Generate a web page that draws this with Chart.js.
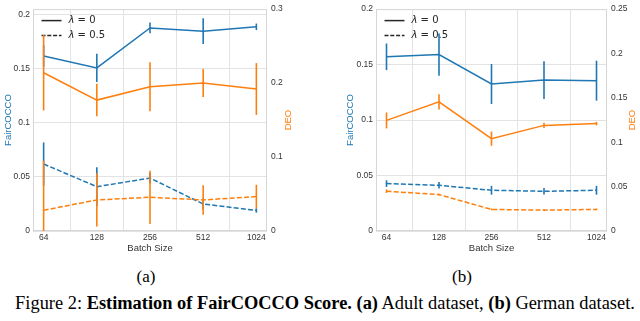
<!DOCTYPE html>
<html><head><meta charset="utf-8">
<script src="https://cdn.jsdelivr.net/npm/chart.js@4.4.1/dist/chart.umd.min.js"></script>
<style>
html,body{margin:0;padding:0;background:#fff;width:640px;height:321px;overflow:hidden;position:relative}
.wrap{position:absolute;top:0;width:320px;height:256px}
#wa{left:0}#wb{left:320px}
.cap{position:absolute;font-family:"Liberation Serif","Times New Roman",serif;color:#000;white-space:nowrap;line-height:1}
#capA{left:146px;top:268px;font-size:17px;transform:translateX(-50%)}
#capB{left:462px;top:268px;font-size:17px;transform:translateX(-50%)}
#fig{left:325px;top:294px;font-size:18.4px;transform:translateX(-50%)}
</style></head><body>
<div class="wrap" id="wa"><canvas id="ca" width="320" height="256"></canvas></div>
<div class="wrap" id="wb"><canvas id="cb" width="320" height="256"></canvas></div>
<div class="cap" id="capA">(a)</div>
<div class="cap" id="capB">(b)</div>
<div class="cap" id="fig">Figure 2: <b>Estimation of FairCOCCO Score.</b> <b>(a)</b> Adult dataset, <b>(b)</b> German dataset.</div>
<script>
// ---- data ----
const batchSizes = ['64', '128', '256', '512', '1024'];
const lambdaValues = ['0', '0.5'];

// (a) Adult dataset
const aFairL0 = [0.162, 0.151, 0.188, 0.185, 0.189];
const aFairL0Err = [0.010, 0.013, 0.005, 0.012, 0.003];
const aDeoL0 = [0.214, 0.177, 0.195, 0.200, 0.192];
const aDeoL0Err = [0.051, 0.022, 0.033, 0.019, 0.035];
const aFairL05 = [0.062, 0.041, 0.049, 0.025, 0.019];
const aFairL05Err = [0.020, 0.018, 0.005, 0.005, 0.002];
const aDeoL05 = [0.028, 0.042, 0.0456, 0.042, 0.0465];
const aDeoL05Err = [0.067, 0.036, 0.036, 0.020, 0.016];
const aLeftTicks = [0, 0.05, 0.1, 0.15, 0.2];
const aRightTicks = [0, 0.1, 0.2, 0.3];

// (b) German dataset
const bFairL0 = [0.157, 0.159, 0.1325, 0.136, 0.1355];
const bFairL0Err = [0.012, 0.019, 0.018, 0.017, 0.018];
const bDeoL0 = [0.1246, 0.1455, 0.104, 0.119, 0.121];
const bDeoL0Err = [0.009, 0.0085, 0.008, 0.003, 0.002];
const bFairL05 = [0.0427, 0.0412, 0.0367, 0.0358, 0.0367];
const bFairL05Err = [0.003, 0.003, 0.004, 0.003, 0.004];
const bDeoL05 = [0.0448, 0.041, 0.0243, 0.0235, 0.0243];
const bDeoL05Err = [0.002, 0.001, 0.001, 0.001, 0.001];
const bLeftTicks = [0, 0.05, 0.1, 0.15, 0.2];
const bRightTicks = [0, 0.05, 0.1, 0.15, 0.2, 0.25];

// ---- style ----
const BLUE = '#1f77b4', ORANGE = '#ff7f0e', TEXT = '#333333', GRID = '#e3e3e3', FRAME = '#d6d6d6';
const FONT = '"Liberation Sans", Arial, sans-serif';
const DASH = [5, 2.2];

function lineDs(vals, color, axis, dashed, order) {
  return { type: 'line', data: vals.map((v, i) => ({ x: i, y: v })), borderColor: color,
    backgroundColor: color, borderWidth: 1.5, borderDash: dashed ? DASH : [], pointRadius: 0,
    tension: 0, yAxisID: axis, order: order, fill: false };
}
function errDs(vals, errs, color, axis, order) {
  return { type: 'bar', data: vals.map((v, i) => ({ x: i, y: [v - errs[i], v + errs[i]] })),
    backgroundColor: color, borderWidth: 0, grouped: false, maxBarThickness: 1.6,
    yAxisID: axis, order: order };
}

const frameLegendPlugin = {
  id: 'frameLegend',
  beforeDatasetsDraw(chart) {
    const { ctx, chartArea: { left, top, right, bottom } } = chart;
    ctx.save();
    ctx.strokeStyle = FRAME; ctx.lineWidth = 1;
    ctx.strokeRect(left + 0.5, top + 0.5, right - left - 1, bottom - top - 1);
    lambdaValues.forEach((lab, i) => {
      const y = top + 11.5 + i * 15;
      ctx.strokeStyle = '#262626'; ctx.lineWidth = 1.5;
      ctx.setLineDash(i === 0 ? [] : [4, 1.8]);
      ctx.beginPath(); ctx.moveTo(left + 8.5, y); ctx.lineTo(left + 28.5, y); ctx.stroke();
      ctx.setLineDash([]);
      ctx.fillStyle = '#262626'; ctx.textBaseline = 'middle'; ctx.textAlign = 'left';
      ctx.font = 'italic 10px "DejaVu Sans"';
      ctx.fillText('λ', left + 35.5, y);
      const w = ctx.measureText('λ').width;
      ctx.font = '10px "DejaVu Sans"';
      ctx.fillText(' = ' + lab, left + 35.5 + w, y);
    });
    ctx.restore();
  },
  afterDraw(chart, args, opts) {
    const { ctx, chartArea: { top, bottom, right } } = chart;
    ctx.save();
    ctx.translate(right + opts.deoOffset, (top + bottom) / 2);
    ctx.rotate(-Math.PI / 2);
    ctx.fillStyle = ORANGE; ctx.textAlign = 'center'; ctx.textBaseline = 'middle';
    ctx.font = '9.5px ' + FONT;
    ctx.fillText('DEO', 0, 0);
    ctx.restore();
  }
};

function fmt(v) { return String(+v.toFixed(3)); }

function makeChart(id, d, cfg) {
  new Chart(document.getElementById(id), {
    type: 'line',
    data: { datasets: [
      errDs(d.deo0, d.deo0e, ORANGE, 'yR', 1), lineDs(d.deo0, ORANGE, 'yR', false, 2),
      errDs(d.deo5, d.deo5e, ORANGE, 'yR', 3), lineDs(d.deo5, ORANGE, 'yR', true, 4),
      errDs(d.fair0, d.fair0e, BLUE, 'yL', 5), lineDs(d.fair0, BLUE, 'yL', false, 6),
      errDs(d.fair5, d.fair5e, BLUE, 'yL', 7), lineDs(d.fair5, BLUE, 'yL', true, 8)
    ] },
    options: {
      responsive: false, animation: false, devicePixelRatio: 1,
      layout: { padding: { top: cfg.padTop, left: cfg.padLeft, right: 0, bottom: 0 } },
      plugins: { legend: { display: false }, tooltip: { enabled: false },
        frameLegend: { deoOffset: cfg.deoOffset } },
      scales: {
        x: { type: 'linear', min: -0.2, max: 4.2, offset: false,
          afterBuildTicks: s => { s.ticks = batchSizes.map((_, i) => ({ value: i })); },
          afterFit: s => { s.height = 25; },
          ticks: { callback: v => batchSizes[v], color: TEXT, font: { family: FONT, size: 8.5 },
            padding: 2, maxRotation: 0, autoSkip: false },
          grid: { color: GRID, drawTicks: false, lineWidth: 1 },
          border: { display: false },
          title: { display: true, text: 'Batch Size', color: TEXT, font: { family: FONT, size: 9.5 },
            padding: { top: 0, bottom: 2.3 } } },
        yL: { type: 'linear', position: 'left', min: 0, max: cfg.leftMax,
          afterBuildTicks: s => { s.ticks = cfg.leftTicks.map(v => ({ value: v })); },
          afterFit: s => { s.width = cfg.leftWidth; },
          ticks: { callback: fmt, color: TEXT, font: { family: FONT, size: 8.5 }, padding: 3 },
          grid: { color: GRID, drawTicks: false, lineWidth: 1 },
          border: { display: false },
          title: { display: true, text: 'FairCOCCO', color: BLUE, font: { family: FONT, size: 9.5 },
            padding: { top: 2.3, bottom: 0 } } },
        yR: { type: 'linear', position: 'right', min: 0, max: cfg.rightMax,
          afterBuildTicks: s => { s.ticks = cfg.rightTicks.map(v => ({ value: v })); },
          afterFit: s => { s.width = cfg.rightWidth; },
          ticks: { callback: fmt, color: TEXT, font: { family: FONT, size: 8.5 }, padding: 4 },
          grid: { drawOnChartArea: false, drawTicks: false },
          border: { display: false } }
      }
    },
    plugins: [frameLegendPlugin]
  });
}

makeChart('ca', { fair0: aFairL0, fair0e: aFairL0Err, deo0: aDeoL0, deo0e: aDeoL0Err,
  fair5: aFairL05, fair5e: aFairL05Err, deo5: aDeoL05, deo5e: aDeoL05Err },
  { padTop: 4, padLeft: 0, leftWidth: 33, rightWidth: 53, leftMax: 0.2054, rightMax: 0.3,
    leftTicks: aLeftTicks, rightTicks: aRightTicks, deoOffset: 21 });
makeChart('cb', { fair0: bFairL0, fair0e: bFairL0Err, deo0: bDeoL0, deo0e: bDeoL0Err,
  fair5: bFairL05, fair5e: bFairL05Err, deo5: bDeoL05, deo5e: bDeoL05Err },
  { padTop: 8, padLeft: 22, leftWidth: 34, rightWidth: 33, leftMax: 0.2, rightMax: 0.25,
    leftTicks: bLeftTicks, rightTicks: bRightTicks, deoOffset: 25 });
</script>
</body></html>
